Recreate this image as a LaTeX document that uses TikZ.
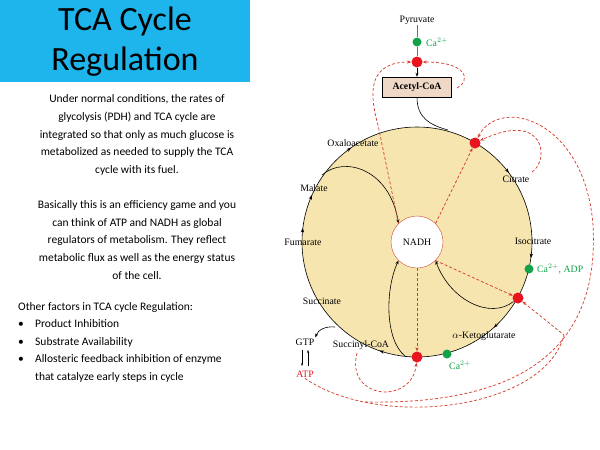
\documentclass[tikz,border=0pt]{standalone}
\usepackage{fontspec}
\setmainfont{Carlito}
\newfontfamily\dia{Liberation Serif}
\usetikzlibrary{arrows.meta}
\definecolor{cyanbox}{HTML}{1EB4EC}
\definecolor{cyc}{HTML}{F6E5AE}
\definecolor{rdot}{HTML}{E8141E}
\definecolor{gdot}{HTML}{12A24A}
\definecolor{dshcol}{HTML}{D23A2A}
\definecolor{boxf}{HTML}{EFD9C6}
\begin{document}
\begin{tikzpicture}[x=1pt,y=-1pt,
  lab/.style={font=\dia\fontsize{9.8}{10}\selectfont,inner sep=1pt},
  glab/.style={lab,text=gdot},
  rd/.style={circle,fill=rdot,minimum size=11pt,inner sep=0},
  gd/.style={circle,fill=gdot,minimum size=9pt,inner sep=0},
  dsh/.style={draw=dshcol,densely dashed,line width=0.7pt,-{Stealth[length=4pt]}},
  blk/.style={black,line width=0.6pt,-{Stealth[length=4pt]}},
  para/.style={font=\fontsize{11.5}{17.6}\selectfont,align=center,inner sep=0}]
\useasboundingbox (0,0) rectangle (600,450);
\fill[white] (0,0) rectangle (600,450);
% title
\node[fill=cyanbox,minimum width=250pt,minimum height=82pt,anchor=north west,inner sep=0] (tb) at (0,0) {};
\node[font=\fontsize{34}{40}\selectfont,align=center] (title) at (125,42) {TCA Cycle\\Regulation};
\node[para] (p1) at (137,135) {Under normal conditions, the rates of\\glycolysis (PDH) and TCA cycle are\\integrated so that only as much glucose is\\metabolized as needed to supply the TCA\\cycle with its fuel.};
\node[para] (p2) at (137,240) {Basically this is an efficiency game and you\\can think of ATP and NADH as global\\regulators of metabolism. They reflect\\metabolic flux as well as the energy status\\of the cell.};
\node[para,align=left,anchor=north west] (p3) at (18,302) {Other factors in TCA cycle Regulation:\\[-0.3pt]
\makebox[17pt][l]{\textbullet}Product Inhibition\\
\makebox[17pt][l]{\textbullet}Substrate Availability\\
\makebox[17pt][l]{\textbullet}Allosteric feedback inhibition of enzyme\\
\makebox[17pt][l]{}that catalyze early steps in cycle};
% cycle
\fill[cyc] (417,242) circle (115);
\draw[line width=0.6pt] (417,242) circle (115);
\foreach \t in {52,97,137,198,276,293,324}{
  \draw[-{Stealth[length=4.5pt]},line width=0.6pt] ({417+115*sin(\t)},{242-115*cos(\t)}) -- ++({2*cos(\t)},{2*sin(\t)});}
\node[circle,draw=dshcol!80!brown,fill=white,minimum size=52pt,inner sep=0,font=\dia\fontsize{9.8}{10}\selectfont] (nadh) at (417,242) {NADH};
% top
\node[lab] (pyr) at (417,20) {Pyruvate};
\node[gd] (g1) at (417,42) {};
\node[glab,anchor=west] (gl1) at (425,42) {Ca$^{2+}$};
\node[rd] (r1) at (417,62) {};
\node[draw,fill=boxf,minimum width=69pt,minimum height=20pt,inner sep=0,font=\dia\bfseries\fontsize{9.8}{10}\selectfont] (acoa) at (417,87) {Acetyl-CoA};
\draw[gdot,line width=0.7pt] (pyr) -- (g1) -- (r1);
\draw[blk] (r1) -- (acoa);
\draw[line width=0.6pt] (acoa.south) .. controls (417,118) and (430,125) .. (448,130);
% labels
\node[lab] (oaa) at (353,143) {Oxaloacetate};
\node[lab] (mal) at (314,188) {Malate};
\node[lab] (cit) at (516,179) {Citrate};
\node[lab] (fum) at (303,242) {Fumarate};
\node[lab] (iso) at (533,241) {Isocitrate};
\node[lab] (suc) at (322,301) {Succinate};
\node[lab] (scoa) at (361,345) {Succinyl-CoA};
\node[lab] (akg) at (484,336) {$\alpha$-Ketoglutarate};
\node[lab] (gtp) at (305,342) {GTP};
\node[lab,text=rdot] (atp) at (305,374) {ATP};
\draw[-{Stealth[length=3pt]},line width=0.5pt] (302,350) -- (302,366);
\draw[-{Stealth[length=3pt]},line width=0.5pt] (308,366) -- (308,350);
\draw[blk] (335,327) .. controls (325,326) and (318,330) .. (gtp.north east);
% dots on cycle
\node[rd] (r2) at (475,143) {};
\node[rd] (r3) at (518,298) {};
\node[rd] (r4) at (417,357) {};
\node[gd] (g2) at (529,269) {};
\node[glab,anchor=west] (gl2) at (536,269) {Ca$^{2+}$, ADP};
\node[gd] (g3) at (447,354) {};
\node[glab] (gl3) at (460,365) {Ca$^{2+}$};
% black inward arrows
\draw[blk] (322,175) .. controls (345,155) and (390,170) .. (nadh.north west);
\draw[blk] (r3) .. controls (490,320) and (450,300) .. (nadh.south east);
\draw[blk] (405,356) .. controls (385,340) and (385,290) .. (nadh.south west);
% dashed regulation
\draw[dsh] (nadh.north west) -- (378,125) .. controls (368,90) and (370,62) .. (r1);
\draw[dsh] (457,88) .. controls (470,82) and (470,62) .. (r1);
\draw[dsh] (nadh.north east) -- (r2);
\draw[dsh] (532,172) .. controls (550,160) and (545,110) .. (r2);
\draw[dsh] (nadh.south east) -- (r3);
\draw[dsh] (nadh.south) -- (r4);
\draw[dsh] (357,353) .. controls (345,400) and (412,405) .. (r4);
\draw[dsh] (atp.south) .. controls (380,430) and (545,410) .. (564,335) -- (r3);
\draw[dsh] (365,402) .. controls (520,405) and (600,350) .. (593,225) .. controls (585,120) and (500,95) .. (r2);
\end{tikzpicture}
\end{document}
